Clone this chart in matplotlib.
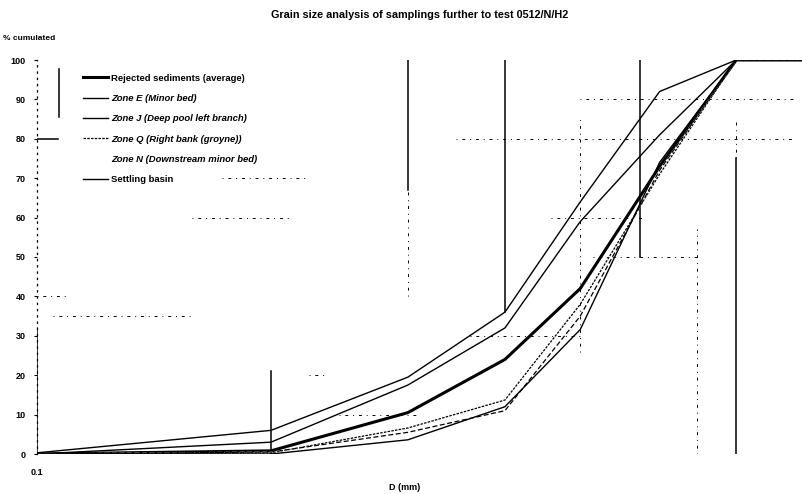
import matplotlib
matplotlib.use("Agg")
import matplotlib.pyplot as plt
import numpy as np

plt.rcParams['font.family'] = ['Liberation Sans', 'DejaVu Sans']

# ---- data ----
sieve_mm = [0.1, 0.4, 0.9, 1.6, 2.5, 4.0, 6.3, 10.0]
rejected_avg = [0.0, 0.8, 10.5, 24.0, 42.0, 73.0, 100, 100]
zone_e = [0.3, 6.0, 19.5, 36.0, 64.0, 92.0, 100, 100]
zone_j = [0.0, 3.0, 17.5, 32.0, 59.0, 81.0, 100, 100]
zone_q = [0.0, 0.3, 6.6, 13.7, 38.0, 71.0, 100, 100]
zone_n = [0.0, 0.5, 5.5, 11.0, 35.0, 72.0, 100, 100]
settling = [0.0, 0.0, 3.6, 12.0, 31.6, 74.0, 100, 100]

labels = ["Rejected sediments (average)", "Zone E (Minor bed)",
          "Zone J (Deep pool left branch)", "Zone Q (Right bank (groyne))",
          "Zone N (Downstream minor bed)", "Settling basin"]

y_ticks = [0, 10, 20, 30, 40, 50, 60, 70, 80, 90, 100]

# solid reference segments: (x in mm, y from %, y to %)
ref_vlines = [(0.1, 0, 32), (0.4, 0, 21), (0.9, 67, 100), (1.6, 36, 100),
              (3.56, 50, 100), (6.3, 0, 75), (0.114, 85.5, 97.7)]
# dash-dot grid fragments: (y %, x from mm, x to mm)
grid_h = [(90, 2.5, 9.0), (80, 1.2, 9.0), (60, 2.1, 3.7), (50, 2.7, 5.0),
          (30, 1.3, 2.5), (10, 0.6, 0.95), (20, 0.5, 0.55), (70, 0.3, 0.5),
          (35, 0.11, 0.25), (60, 0.25, 0.45), (40, 0.1, 0.12)]
grid_v = [(2.5, 26, 86), (5.0, 0, 57), (0.9, 40, 67), (6.3, 75, 85)]

fig = plt.figure(figsize=(8.02, 4.94), dpi=100)
ax = fig.add_axes([37/802, 40/494, 765/802, 394/494])
ax.set_xscale('log')
ax.set_xlim(0.1, 9.3)
ax.set_ylim(0, 100)

# grid fragments
gstyle = dict(color='black', lw=0.7, ls=(0, (1, 5, 3, 5)), zorder=1)
for y, x0, x1 in grid_h:
    ax.plot([x0, x1], [y, y], **gstyle)
for x, y0, y1 in grid_v:
    ax.plot([x, x], [y0, y1], **gstyle)
for x, y0, y1 in ref_vlines:
    ax.plot([x, x], [y0, y1], color='black', lw=1.1, zorder=2)
ax.plot([0.1, 0.113], [80, 80], color='black', lw=1.1)

series = [rejected_avg, zone_e, zone_j, zone_q, zone_n, settling]
styles = [dict(lw=2.2), dict(lw=1.0), dict(lw=1.0), dict(lw=0.9, ls=(0, (2, 1))),
          dict(lw=0.9, ls=(0, (4, 2)), color='white'), dict(lw=1.0)]
handles = []
for vals, lab, st in zip(series, labels, styles):
    kw = dict(color='black')
    kw.update(st)
    h, = ax.plot(sieve_mm, vals, label=lab, zorder=3, **kw)
    handles.append(h)
# visible zone N curve
ax.plot(sieve_mm, zone_n, color='black', lw=0.9, ls=(0, (4, 2)), zorder=3)

leg = ax.legend(handles=handles, loc='upper left', bbox_to_anchor=(0.06, 0.965),
                frameon=False, fontsize=6.8, handlelength=2.7, handletextpad=0.25,
                labelspacing=1.2, borderpad=0, borderaxespad=0)
for t, lab in zip(leg.get_texts(), labels):
    t.set_fontweight('bold')
    if lab.startswith('Zone'):
        t.set_style('italic')

for s in ['top', 'right', 'bottom']:
    ax.spines[s].set_visible(False)
ax.spines['left'].set_linestyle((0, (1, 4)))
ax.spines['left'].set_linewidth(0.9)

ax.set_yticks(y_ticks)
ax.set_yticklabels([str(v) for v in y_ticks], fontsize=6.5, fontweight='bold')
ax.tick_params(axis='y', length=2, pad=6)
ax.set_xticks([0.1])
ax.set_xticklabels(['0.1'], fontsize=6.5, fontweight='bold')
ax.xaxis.set_minor_locator(matplotlib.ticker.NullLocator())
ax.tick_params(axis='x', length=0, pad=10)

fig.text(420/802, 1 - 15/494, "Grain size analysis of samplings further to test 0512/N/H2",
         ha='center', va='center', fontsize=7.8, fontweight='bold')
fig.text(3/802, 1 - 38/494, "% cumulated", ha='left', va='center',
         fontsize=6, fontweight='bold')
fig.text(405/802, 1 - 487/494, "D (mm)", ha='center', va='center',
         fontsize=6.5, fontweight='bold')

fig.savefig('out.png', dpi=100)
